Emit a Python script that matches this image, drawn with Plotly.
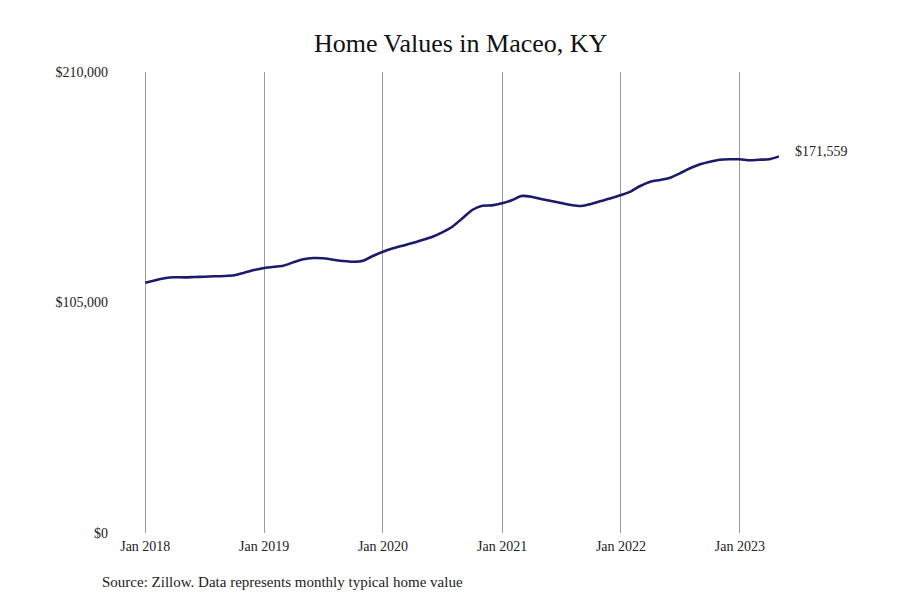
import pandas as pd
import plotly.graph_objects as go

# monthly typical home value, Jan 2018 - May 2023
months = pd.date_range("2018-01-01", "2023-05-01", freq="MS")
values = [
    114020, 115110, 116020, 116480, 116450, 116620, 116750, 116930, 117070, 117390, 118580, 119800,
    120720, 121310, 121760, 123310, 124680, 125270, 125130, 124500, 123900, 123590, 124040, 126180,
    128140, 129690, 130880, 132100, 133470, 134970, 136980, 139530, 143360, 147140, 149100, 149250,
    150190, 151690, 153510, 153200, 152150, 151240, 150320, 149410, 148960, 149870, 151240, 152470,
    153970, 155650, 158070, 160030, 160800, 161850, 163850, 166130, 167950, 169140, 170050, 170230,
    170230, 169770, 170050, 170230, 171559,
]

x_ticks = pd.date_range("2018-01-01", "2023-01-01", freq="YS")
x_labels = ["Jan " + str(d.year) for d in x_ticks]
y_ticks = [0, 105000, 210000]
y_labels = ["$0", "$105,000", "$210,000"]

font = "Liberation Serif"

fig = go.Figure()
fig.add_trace(go.Scatter(
    x=months, y=values, mode="lines",
    line=dict(color="#1b1a6b", width=2.6, shape="spline", smoothing=0.6),
    hoverinfo="skip",
))

# end label
fig.add_annotation(
    x=months[-1], y=values[-1], text="${:,}".format(values[-1]),
    showarrow=False, xanchor="left", yanchor="middle", xshift=14, yshift=5,
    font=dict(family=font, size=14, color="#222"),
)

# source line
fig.add_annotation(
    xref="paper", yref="paper", x=-0.066, y=-0.106,
    text="Source: Zillow. Data represents monthly typical home value",
    showarrow=False, xanchor="left", yanchor="middle",
    font=dict(family=font, size=15, color="#222"),
)

# page body adds 8px offset, margins compensate for it
fig.update_layout(
    width=900, height=600,
    margin=dict(l=135, r=119, t=64, b=75, autoexpand=False),
    paper_bgcolor="white", plot_bgcolor="white",
    showlegend=False,
    title=dict(text="Home Values in Maceo, KY", x=0.503, xanchor="center",
               y=0.942, yanchor="middle",
               font=dict(family=font, size=26, color="#111")),
    font=dict(family=font, size=14, color="#222"),
)
fig.update_xaxes(
    range=["2017-12-25", "2023-06-01"],
    tickvals=x_ticks, ticktext=x_labels,
    showgrid=True, gridcolor="#9a9a9a", gridwidth=1,
    showline=False, zeroline=False, ticks="", automargin=False,
    ticklabelstandoff=3,
)
fig.update_yaxes(
    range=[0, 210000],
    tickvals=y_ticks, ticktext=y_labels,
    showgrid=False, showline=False, zeroline=False, ticks="",
    ticklabelstandoff=34, automargin=False,
)

fig.write_html("out.html")
